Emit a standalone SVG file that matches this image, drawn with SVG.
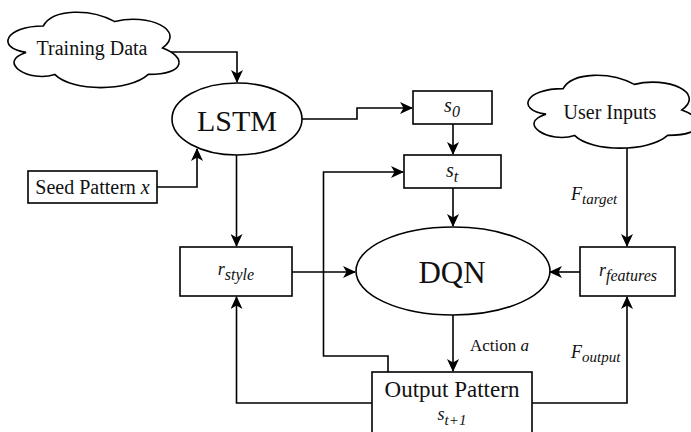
<svg xmlns="http://www.w3.org/2000/svg" width="691" height="432" viewBox="0 0 691 432">
<defs>
<style>
.shape{fill:#fff;stroke:#000;stroke-width:1.6}
.edge{fill:none;stroke:#000;stroke-width:1.6;marker-end:url(#arr)}
text{font-family:"Liberation Serif","Times New Roman",serif;fill:#111}
.it{font-style:italic}
</style>
<marker id="arr" viewBox="0 0 13 12" refX="12" refY="6" markerWidth="13" markerHeight="12" markerUnits="userSpaceOnUse" orient="auto">
<path d="M0,0 L13,6 L0,12 L3.5,6 Z" fill="#000"/>
</marker>
</defs>

<g id="connectors">
<path class="edge" d="M166,52 H237 V82"/>
<path class="edge" d="M157,187 H197 V149"/>
<path class="edge" d="M302,119 H357 V108 H412"/>
<path class="edge" d="M453,124 V154"/>
<path class="edge" d="M388,372 V356 H323.5 V172 H403"/>
<path class="edge" d="M453,188 V226"/>
<path class="edge" d="M236.5,155 V246"/>
<path class="edge" d="M292,272 H355"/>
<path class="edge" d="M627,148 V246"/>
<path class="edge" d="M580,272 H550"/>
<path class="edge" d="M453,315 V371"/>
<path class="edge" d="M532,403 H627 V297"/>
<path class="edge" d="M372,403 H236.5 V297"/>
</g>

<g id="training-data">
<path class="shape" transform="translate(-4.5,4) scale(191,88)" vector-effect="non-scaling-stroke" d="M0.25,0.25 C0.05,0.25 0,0.5 0.16,0.55 C0,0.66 0.18,0.9 0.31,0.8 C0.4,1 0.7,1 0.8,0.8 C1,0.8 1,0.6 0.875,0.5 C1,0.3 0.8,0.1 0.625,0.2 C0.5,0.05 0.3,0.05 0.25,0.25 Z"/>
<text x="92" y="55" font-size="20" text-anchor="middle">Training Data</text>
</g>

<g id="lstm">
<ellipse class="shape" cx="237" cy="119" rx="65" ry="36"/>
<text x="237" y="131" font-size="30" text-anchor="middle">LSTM</text>
</g>

<g id="seed-pattern">
<rect class="shape" x="28" y="171" width="129" height="32"/>
<text x="92.5" y="194" font-size="20" text-anchor="middle">Seed Pattern <tspan class="it">x</tspan></text>
</g>

<g id="s0">
<rect class="shape" x="413" y="91" width="79" height="33"/>
<text x="452" y="112" font-size="20" text-anchor="middle"><tspan class="it">s</tspan><tspan class="it" font-size="16" dy="5">0</tspan></text>
</g>

<g id="st">
<rect class="shape" x="404" y="155" width="97" height="33"/>
<text x="452" y="177" font-size="20" text-anchor="middle"><tspan class="it">s</tspan><tspan class="it" font-size="16" dy="5">t</tspan></text>
</g>

<g id="user-inputs">
<path class="shape" transform="translate(515.6,67.4) scale(190,85)" vector-effect="non-scaling-stroke" d="M0.25,0.25 C0.05,0.25 0,0.5 0.16,0.55 C0,0.66 0.18,0.9 0.31,0.8 C0.4,1 0.7,1 0.8,0.8 C1,0.8 1,0.6 0.875,0.5 C1,0.3 0.8,0.1 0.625,0.2 C0.5,0.05 0.3,0.05 0.25,0.25 Z"/>
<text x="610" y="119" font-size="20" text-anchor="middle">User Inputs</text>
</g>

<g id="dqn">
<ellipse class="shape" cx="453" cy="271" rx="97" ry="44"/>
<text x="452" y="283" font-size="31" text-anchor="middle">DQN</text>
</g>

<g id="r-style">
<rect class="shape" x="180" y="247" width="112" height="49"/>
<text x="236" y="275" font-size="18" text-anchor="middle"><tspan class="it">r</tspan><tspan class="it" font-size="16" dy="5">style</tspan></text>
</g>

<g id="r-features">
<rect class="shape" x="580" y="247" width="95" height="49"/>
<text x="628" y="276" font-size="18" text-anchor="middle"><tspan class="it">r</tspan><tspan class="it" font-size="16" dy="5">features</tspan></text>
</g>

<g id="output-pattern">
<rect class="shape" x="372" y="372" width="160" height="70"/>
<text x="452" y="397" font-size="23" text-anchor="middle">Output Pattern</text>
<text x="452" y="420" font-size="18" text-anchor="middle"><tspan class="it">s</tspan><tspan class="it" font-size="15" dy="5">t+1</tspan></text>
</g>

<g id="labels">
<text x="571" y="200" font-size="18"><tspan class="it">F</tspan><tspan class="it" font-size="15" dy="4">target</tspan></text>
<text x="470" y="351" font-size="17">Action <tspan class="it">a</tspan></text>
<text x="571" y="358" font-size="18"><tspan class="it">F</tspan><tspan class="it" font-size="15" dy="4">output</tspan></text>
</g>
</svg>
